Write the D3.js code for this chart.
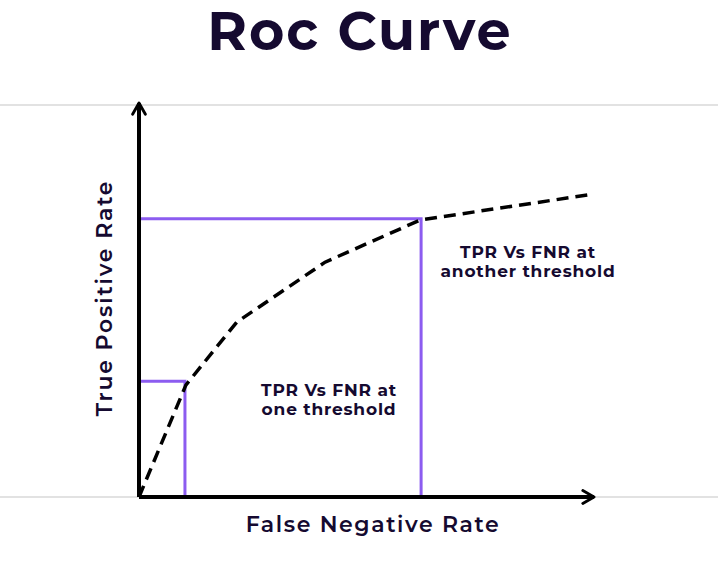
<!DOCTYPE html>
<html>
<head>
<meta charset="utf-8">
<script src="https://cdn.jsdelivr.net/npm/d3@7"></script>
<style>
  body { margin: 0; background: #fff; }
  text { font-family: Montserrat, "Open Sans", Lato, sans-serif; fill: #150a30; }
</style>
</head>
<body>
<div id="chart"></div>
<script>
// roc curve points (false negative rate, true positive rate)
const fnr = [0, 0.103, 0.215, 0.409, 0.618, 1.0];
const tpr = [0, 0.284, 0.444, 0.596, 0.703, 0.769];

// the two highlighted thresholds
const thrFnr = [0.101, 0.62];
const thrTpr = [0.294, 0.706];
const thrLabels = [
  ["TPR Vs FNR at", "one threshold"],
  ["TPR Vs FNR at", "another threshold"]
];

const width = 718;
const height = 577;

const svg = d3.select("#chart")
  .append("svg")
  .attr("width", width)
  .attr("height", height);

const x = d3.scaleLinear().domain([0, 1]).range([139, 594]);
const y = d3.scaleLinear().domain([0, 1]).range([497, 103]);

// grey guide lines
[0, 1].forEach(v => {
  svg.append("line")
    .attr("x1", 0).attr("x2", width)
    .attr("y1", y(v) + (v ? 2 : 0)).attr("y2", y(v) + (v ? 2 : 0))
    .attr("stroke", "#d9d9d9")
    .attr("stroke-width", 1.5);
});

svg.append("defs").append("marker")
  .attr("id", "arrow")
  .attr("viewBox", "0 0 10 10")
  .attr("refX", 8).attr("refY", 5)
  .attr("markerWidth", 4).attr("markerHeight", 4)
  .attr("orient", "auto")
  .append("path")
  .attr("d", "M1,1 L8,5 L1,9")
  .attr("fill", "none")
  .attr("stroke", "#000")
  .attr("stroke-width", 1.8)
  .attr("stroke-linecap", "round")
  .attr("stroke-linejoin", "round");

// threshold boxes
thrFnr.forEach((f, i) => {
  svg.append("path")
    .attr("d", `M${x(0)},${y(thrTpr[i])} H${x(f)} V${y(0)}`)
    .attr("fill", "none")
    .attr("stroke", "#8c5cf0")
    .attr("stroke-width", 3);
});

// axes
svg.append("line")
  .attr("x1", x(0)).attr("y1", y(0))
  .attr("x2", x(0)).attr("y2", y(1))
  .attr("stroke", "#000").attr("stroke-width", 4)
  .attr("marker-end", "url(#arrow)");
svg.append("line")
  .attr("x1", x(0)).attr("y1", y(0))
  .attr("x2", x(1)).attr("y2", y(0))
  .attr("stroke", "#000").attr("stroke-width", 4)
  .attr("marker-end", "url(#arrow)");

const line = d3.line()
  .x((d, i) => x(fnr[i]))
  .y(d => y(d));

svg.append("path")
  .attr("d", line(tpr))
  .attr("fill", "none")
  .attr("stroke", "#000")
  .attr("stroke-width", 3.5)
  .attr("stroke-dasharray", "12,7");

// labels next to the thresholds
const labelPos = [[329, 396], [528, 258]];
thrLabels.forEach((lines, i) => {
  const t = svg.append("text")
    .attr("x", labelPos[i][0])
    .attr("y", labelPos[i][1])
    .attr("text-anchor", "middle")
    .attr("font-size", 17)
    .attr("font-weight", 700)
    .attr("letter-spacing", 0.8);
  lines.forEach((s, j) => {
    t.append("tspan")
      .attr("x", labelPos[i][0])
      .attr("dy", j ? 19 : 0)
      .text(s);
  });
});

svg.append("text")
  .attr("x", 360).attr("y", 50)
  .attr("text-anchor", "middle")
  .attr("font-size", 54)
  .attr("font-weight", 700)
  .attr("letter-spacing", 2)
  .text("Roc Curve");

svg.append("text")
  .attr("x", 373).attr("y", 532)
  .attr("text-anchor", "middle")
  .attr("font-size", 22)
  .attr("font-weight", 600)
  .attr("letter-spacing", 1.6)
  .text("False Negative Rate");

svg.append("text")
  .attr("transform", "translate(112,298) rotate(-90)")
  .attr("text-anchor", "middle")
  .attr("font-size", 22)
  .attr("font-weight", 600)
  .attr("letter-spacing", 1.8)
  .text("True Positive Rate");
</script>
</body>
</html>
